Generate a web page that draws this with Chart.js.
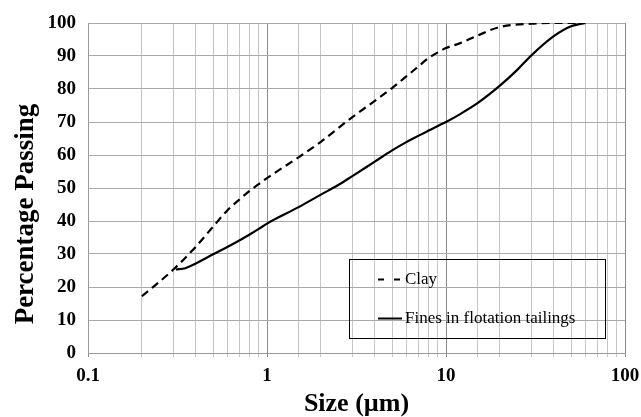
<!DOCTYPE html>
<html>
<head>
<meta charset="utf-8">
<script src="https://cdn.jsdelivr.net/npm/chart.js@4/dist/chart.umd.min.js"></script>
<style>
  html, body { margin: 0; padding: 0; background: #fff; }
  canvas { display: block; }
</style>
</head>
<body>
<canvas id="c" width="641" height="417"></canvas>
<script>
// ---- data ----
const clayX = [0.2, 0.3, 0.4, 0.5, 0.6, 0.7, 0.8, 0.9, 1, 1.5, 2, 3, 4, 5, 6, 7, 8, 9, 10, 12, 15, 20, 30, 40, 60];
const clayY = [17.2, 25.3, 32.2, 38.3, 43.2, 46.5, 49.1, 51.2, 53, 59.3, 64, 71.5, 76.4, 80.3, 83.8, 86.8, 89.4, 91.1, 92.4, 93.9, 96.2, 98.8, 99.8, 100, 100];

const finesX = [0.31, 0.35, 0.4, 0.5, 0.6, 0.7, 0.8, 0.9, 1, 1.5, 2, 2.5, 3, 4, 5, 6, 7, 8, 9, 10, 12, 15, 20, 25, 30, 40, 50, 60];
const finesY = [25.3, 25.7, 27.1, 29.9, 32.1, 34.1, 35.9, 37.6, 39.2, 44.2, 48, 50.9, 53.6, 58, 61.4, 63.9, 65.8, 67.4, 68.8, 70, 72.4, 75.7, 81, 85.8, 90.2, 96, 99, 100];

const seriesNames = ['Clay', 'Fines in flotation tailings'];
const xTickValues = [0.1, 1, 10, 100];
const xTickLabels = ['0.1', '1', '10', '100'];
const yTickLabels = ['0', '10', '20', '30', '40', '50', '60', '70', '80', '90', '100'];
const xTitle = 'Size (\u00b5m)';
const yTitle = 'Percentage Passing';

const toPts = (xs, ys) => xs.map((x, i) => ({ x: x, y: ys[i] }));

const majorIndex = v => {
  for (let i = 0; i < xTickValues.length; i++) {
    if (Math.abs(Math.log10(v) - Math.log10(xTickValues[i])) < 1e-6) return i;
  }
  return -1;
};

const SERIF = '"Liberation Serif", "Times New Roman", serif';

const bgPlugin = {
  id: 'bg',
  beforeDraw(chart) {
    const ctx = chart.ctx;
    ctx.save();
    ctx.fillStyle = '#ffffff';
    ctx.fillRect(0, 0, chart.width, chart.height);
    ctx.restore();
  }
};

const decorPlugin = {
  id: 'decor',
  afterDraw(chart) {
    const ctx = chart.ctx;
    const a = chart.chartArea;
    ctx.save();
    // axis titles
    ctx.fillStyle = '#000';
    ctx.textAlign = 'center';
    ctx.textBaseline = 'middle';
    ctx.font = 'bold 26px ' + SERIF;
    ctx.fillText(xTitle, (a.left + a.right) / 2, 404);
    ctx.save();
    ctx.translate(26, 214);
    ctx.rotate(-Math.PI / 2);
    ctx.font = 'bold 27px ' + SERIF;
    ctx.fillText(yTitle, 0, 0);
    ctx.restore();

    // legend box (transparent, grid shows through)
    ctx.strokeStyle = '#000';
    ctx.lineWidth = 1;
    ctx.strokeRect(349.5, 259.5, 256, 79);
    const items = [
      { name: seriesNames[0], dash: [6, 10], y: 279.5 },
      { name: seriesNames[1], dash: [], y: 318.5 }
    ];
    ctx.font = '17px ' + SERIF;
    ctx.textAlign = 'left';
    ctx.textBaseline = 'middle';
    items.forEach(it => {
      ctx.beginPath();
      ctx.setLineDash(it.dash);
      ctx.lineWidth = 2;
      ctx.moveTo(378, it.y);
      ctx.lineTo(402, it.y);
      ctx.stroke();
      ctx.setLineDash([]);
      ctx.fillText(it.name, 405, it.y);
    });
    ctx.restore();
  }
};

new Chart(document.getElementById('c'), {
  type: 'line',
  data: {
    datasets: [
      {
        label: seriesNames[0],
        data: toPts(clayX, clayY),
        borderColor: '#000',
        borderWidth: 2.2,
        borderDash: [8, 5],
        pointRadius: 0,
        cubicInterpolationMode: 'monotone',
        fill: false
      },
      {
        label: seriesNames[1],
        data: toPts(finesX, finesY),
        borderColor: '#000',
        borderWidth: 2.2,
        pointRadius: 0,
        cubicInterpolationMode: 'monotone',
        fill: false
      }
    ]
  },
  options: {
    responsive: false,
    animation: false,
    layout: { padding: { top: 23, right: 16, left: 0, bottom: 0 } },
    plugins: {
      legend: { display: false },
      tooltip: { enabled: false },
      title: { display: false }
    },
    scales: {
      x: {
        type: 'logarithmic',
        min: 0.1,
        max: 100,
        afterFit: s => { s.height = 64; s.paddingRight = 0; s.paddingLeft = 0; },
        border: { display: true, color: '#9a9a9a' },
        grid: {
          color: c => (c.tick && majorIndex(c.tick.value) >= 0) ? '#8a8a8a' : '#c6c6c6',
          lineWidth: 1,
          drawTicks: true,
          tickLength: 4
        },
        ticks: {
          autoSkip: false,
          maxRotation: 0,
          padding: 8,
          color: '#000',
          font: { family: SERIF, size: 19, weight: 'bold' },
          callback: v => { const i = majorIndex(v); return i >= 0 ? xTickLabels[i] : ''; }
        }
      },
      y: {
        type: 'linear',
        min: 0,
        max: 100,
        afterFit: s => { s.width = 88; s.paddingTop = 0; s.paddingBottom = 0; },
        border: { display: true, color: '#9a9a9a' },
        grid: { color: '#aaaaaa', lineWidth: 1, drawTicks: false },
        ticks: {
          stepSize: 10,
          padding: 12,
          color: '#000',
          font: { family: SERIF, size: 19, weight: 'bold' },
          callback: (v, i) => yTickLabels[i]
        }
      }
    }
  },
  plugins: [bgPlugin, decorPlugin]
});
</script>
</body>
</html>
